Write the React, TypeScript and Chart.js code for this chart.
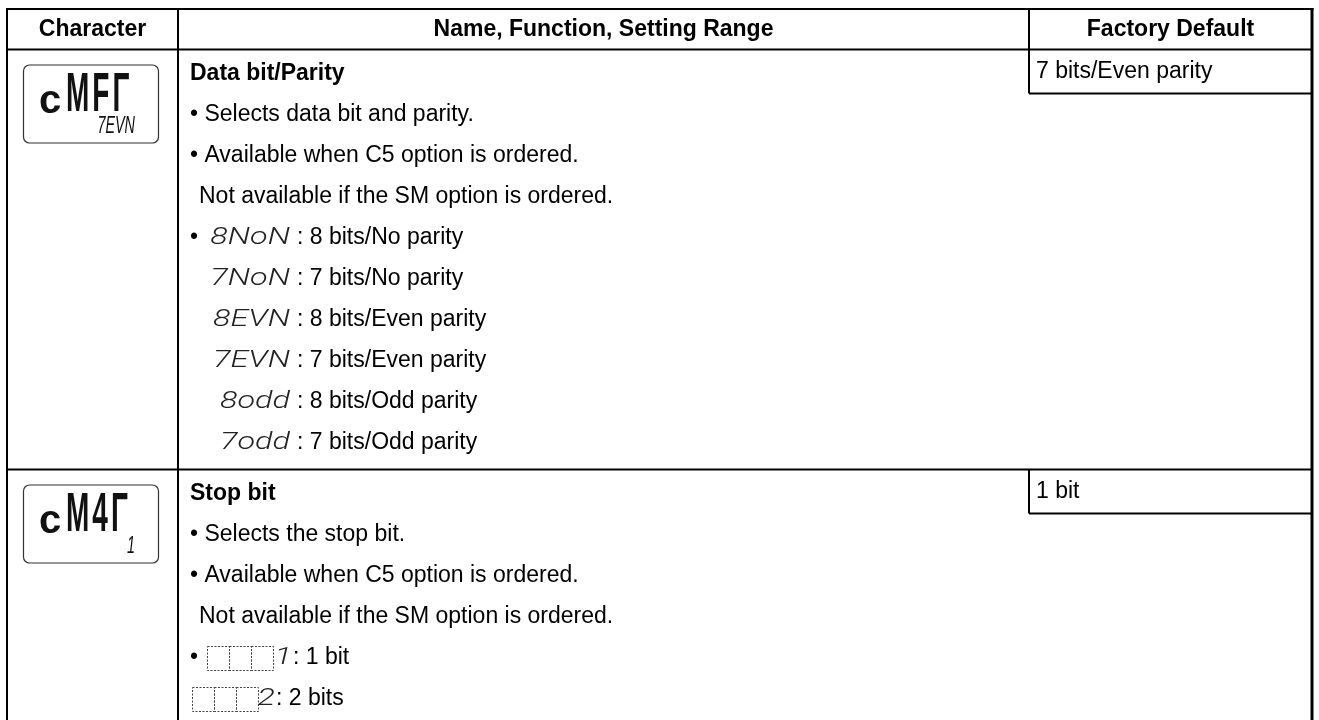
import React, { useEffect, useRef } from "react";
import { Chart, registerables } from "chart.js";

Chart.register(...registerables);

// ---------- data ----------
const HEADERS = ["Character", "Name, Function, Setting Range", "Factory Default"];
const PARAM_TITLES = ["Data bit/Parity", "Stop bit"];
const PARAM_DEFAULTS = ["7 bits/Even parity", "1 bit"];
const DISPLAY_PREFIX = ["c", "c"];
const DISPLAY_MAIN = ["MFΓ", "M4Γ"];
const DISPLAY_SUB = ["7EVN", "1"];
const DATA_BIT_NOTES = [
  "• Selects data bit and parity.",
  "• Available when C5 option is ordered.",
  "Not available if the SM option is ordered.",
];
const DATA_BIT_CODES = ["8NoN", "7NoN", "8EVN", "7EVN", "8odd", "7odd"];
const DATA_BIT_MEANINGS = [
  "8 bits/No parity",
  "7 bits/No parity",
  "8 bits/Even parity",
  "7 bits/Even parity",
  "8 bits/Odd parity",
  "7 bits/Odd parity",
];
const STOP_BIT_NOTES = [
  "• Selects the stop bit.",
  "• Available when C5 option is ordered.",
  "Not available if the SM option is ordered.",
];
const STOP_BIT_CODES = ["1", "2"];
const STOP_BIT_MEANINGS = ["1 bit", "2 bits"];

// ---------- layout ----------
const W = 1319;
const H = 720;
const LEFT = 7;
const RIGHT = 1312;
const TOP = 9;
const HEAD_BOTTOM = 49.5;
const COL1 = 178;
const COL2 = 1029;
const LINE = 41;
const FIRST = 24.5;
const SECTION_PAD = 10;
const DEFAULT_BOX_H = 44;
const TEXT_X = 190;
const FONT = '"Liberation Sans", Arial, sans-serif';
const CODE_FONT = 'italic 300 24px Roboto, "DejaVu Sans", sans-serif';
const CODE_STRETCH = 1.35;

type Section = {
  title: string;
  def: string;
  prefix: string;
  main: string;
  sub: string;
  notes: string[];
  codes: string[];
  meanings: string[];
  blankCells: boolean;
};

const SECTIONS: Section[] = [
  {
    title: PARAM_TITLES[0],
    def: PARAM_DEFAULTS[0],
    prefix: DISPLAY_PREFIX[0],
    main: DISPLAY_MAIN[0],
    sub: DISPLAY_SUB[0],
    notes: DATA_BIT_NOTES,
    codes: DATA_BIT_CODES,
    meanings: DATA_BIT_MEANINGS,
    blankCells: false,
  },
  {
    title: PARAM_TITLES[1],
    def: PARAM_DEFAULTS[1],
    prefix: DISPLAY_PREFIX[1],
    main: DISPLAY_MAIN[1],
    sub: DISPLAY_SUB[1],
    notes: STOP_BIT_NOTES,
    codes: STOP_BIT_CODES,
    meanings: STOP_BIT_MEANINGS,
    blankCells: true,
  },
];

function sectionTops(): number[] {
  const tops: number[] = [];
  let t = HEAD_BOTTOM;
  SECTIONS.forEach((s) => {
    tops.push(t);
    const n = 1 + s.notes.length + s.codes.length;
    t += n * LINE + SECTION_PAD;
  });
  return tops;
}

// anchor points (one per text line) – fed to Chart.js as a dataset
const ANCHORS: { x: number; y: number }[] = (() => {
  const pts: { x: number; y: number }[] = [];
  const tops = sectionTops();
  SECTIONS.forEach((s, i) => {
    const n = 1 + s.notes.length + s.codes.length;
    for (let k = 0; k < n; k++) pts.push({ x: TEXT_X, y: tops[i] + FIRST + k * LINE });
  });
  return pts;
})();

const tablePlugin = {
  id: "tableDraw",
  afterDraw(chart: any) {
    const ctx: CanvasRenderingContext2D = chart.ctx;
    const X = (v: number) => chart.scales.x.getPixelForValue(v);
    const Y = (v: number) => chart.scales.y.getPixelForValue(v);
    const tops = sectionTops();

    ctx.save();
    ctx.fillStyle = "#ffffff";
    ctx.fillRect(0, 0, chart.width, chart.height);

    const hline = (x1: number, x2: number, y: number, lw = 2) => {
      ctx.lineWidth = lw;
      ctx.strokeStyle = "#000";
      ctx.beginPath();
      ctx.moveTo(X(x1), Y(y));
      ctx.lineTo(X(x2), Y(y));
      ctx.stroke();
    };
    const vline = (x: number, y1: number, y2: number, lw = 2) => {
      ctx.lineWidth = lw;
      ctx.strokeStyle = "#000";
      ctx.beginPath();
      ctx.moveTo(X(x), Y(y1));
      ctx.lineTo(X(x), Y(y2));
      ctx.stroke();
    };
    const text = (s: string, x: number, y: number, font: string, align: CanvasTextAlign = "left", color = "#000") => {
      ctx.font = font;
      ctx.textAlign = align;
      ctx.textBaseline = "middle";
      ctx.fillStyle = color;
      ctx.fillText(s, X(x), Y(y));
    };
    const codeText = (s: string, right: number, y: number) => {
      ctx.save();
      ctx.translate(X(right), Y(y));
      ctx.scale(CODE_STRETCH, 1);
      ctx.font = CODE_FONT;
      ctx.textAlign = "right";
      ctx.textBaseline = "middle";
      ctx.fillStyle = "#222";
      ctx.fillText(s, 0, 0);
      ctx.restore();
    };

    // grid lines
    hline(LEFT - 1, RIGHT + 1.5, TOP);
    hline(LEFT, RIGHT, HEAD_BOTTOM);
    vline(LEFT, TOP - 1, H);
    vline(COL1, TOP, H);
    vline(RIGHT, TOP - 1, H, 3);
    vline(COL2, TOP, HEAD_BOTTOM);
    tops.forEach((t, i) => {
      if (i > 0) hline(LEFT, RIGHT, t);
      vline(COL2, t, t + DEFAULT_BOX_H);
      hline(COL2, RIGHT, t + DEFAULT_BOX_H);
    });

    // header
    const headY = (TOP + HEAD_BOTTOM) / 2;
    text(HEADERS[0], (LEFT + COL1) / 2, headY, `bold 23px ${FONT}`, "center");
    text(HEADERS[1], (COL1 + COL2) / 2, headY, `bold 23px ${FONT}`, "center");
    text(HEADERS[2], (COL2 + RIGHT) / 2, headY, `bold 23px ${FONT}`, "center");

    SECTIONS.forEach((s, i) => {
      const t = tops[i];
      // LCD display box
      const bx = 23, bw = 135, by = t + 15, bh = 78;
      ctx.lineWidth = 1.2;
      ctx.strokeStyle = "#333";
      ctx.beginPath();
      (ctx as any).roundRect(X(bx) + 0.5, Y(by) + 0.5, X(bx + bw) - X(bx), Y(by + bh) - Y(by), 6);
      ctx.stroke();
      ctx.fillStyle = "#111";
      ctx.textBaseline = "alphabetic";
      ctx.textAlign = "left";
      ctx.font = `bold 40px ${FONT}`;
      ctx.fillText(s.prefix, X(bx + 16), Y(by + 48));
      ctx.save();
      ctx.translate(X(bx + 43), Y(by + 46));
      ctx.scale(0.5, 1);
      ctx.font = `bold 56px ${FONT}`;
      (ctx as any).letterSpacing = "6px";
      ctx.fillText(s.main, 0, 0);
      (ctx as any).letterSpacing = "0px";
      ctx.restore();
      ctx.save();
      ctx.translate(X(bx + 112), Y(by + 68));
      ctx.scale(0.6, 1);
      ctx.textAlign = "right";
      ctx.font = `italic 24px ${FONT}`;
      ctx.fillText(s.sub, 0, 0);
      ctx.restore();

      // default value
      text(s.def, COL2 + 7, t + DEFAULT_BOX_H / 2 + 0.5, `23px ${FONT}`);

      // title + notes
      let y = t + FIRST;
      text(s.title, TEXT_X, y, `bold 23px ${FONT}`);
      y += LINE;
      s.notes.forEach((n) => {
        const bullet = n.startsWith("•");
        text(n, bullet ? TEXT_X : TEXT_X + 9, y, `23px ${FONT}`);
        y += LINE;
      });

      // codes
      s.codes.forEach((c, k) => {
        if (!s.blankCells) {
          if (k === 0) text("•", TEXT_X, y, `23px ${FONT}`);
          codeText(c, 290, y);
          text(": " + s.meanings[k], 297, y, `23px ${FONT}`);
        } else {
          const startX = k === 0 ? 207 : 192;
          if (k === 0) text("•", TEXT_X, y, `23px ${FONT}`);
          ctx.save();
          ctx.setLineDash([2, 1.5]);
          ctx.lineWidth = 1;
          ctx.strokeStyle = "#444";
          for (let b = 0; b < 3; b++) {
            const x0 = Math.round(X(startX + b * 22)) + 0.5;
            const y0 = Math.round(Y(y - 12)) + 0.5;
            ctx.strokeRect(x0, y0, 22, 24);
          }
          ctx.restore();
          const cellEnd = startX + 3 * 22 + (k === 0 ? 19 : 17);
          codeText(c, cellEnd, y);
          text(": " + s.meanings[k], cellEnd + 1, y, `23px ${FONT}`);
        }
        y += LINE;
      });
    });
    ctx.restore();
  },
};

export default function App() {
  const ref = useRef<HTMLCanvasElement>(null);
  useEffect(() => {
    document.body.style.margin = "0";
    const chart = new Chart(ref.current as HTMLCanvasElement, {
      type: "scatter",
      data: {
        datasets: [{ data: ANCHORS, pointRadius: 0, showLine: false }],
      },
      options: {
        animation: false,
        responsive: false,
        maintainAspectRatio: false,
        events: [],
        layout: { padding: 0 },
        plugins: { legend: { display: false }, tooltip: { enabled: false } },
        scales: {
          x: { type: "linear", min: 0, max: W, display: false },
          y: { type: "linear", min: 0, max: H, reverse: true, display: false },
        },
      },
      plugins: [tablePlugin],
    } as any);
    return () => chart.destroy();
  }, []);
  return <canvas ref={ref} width={W} height={H} style={{ display: "block" }} />;
}
